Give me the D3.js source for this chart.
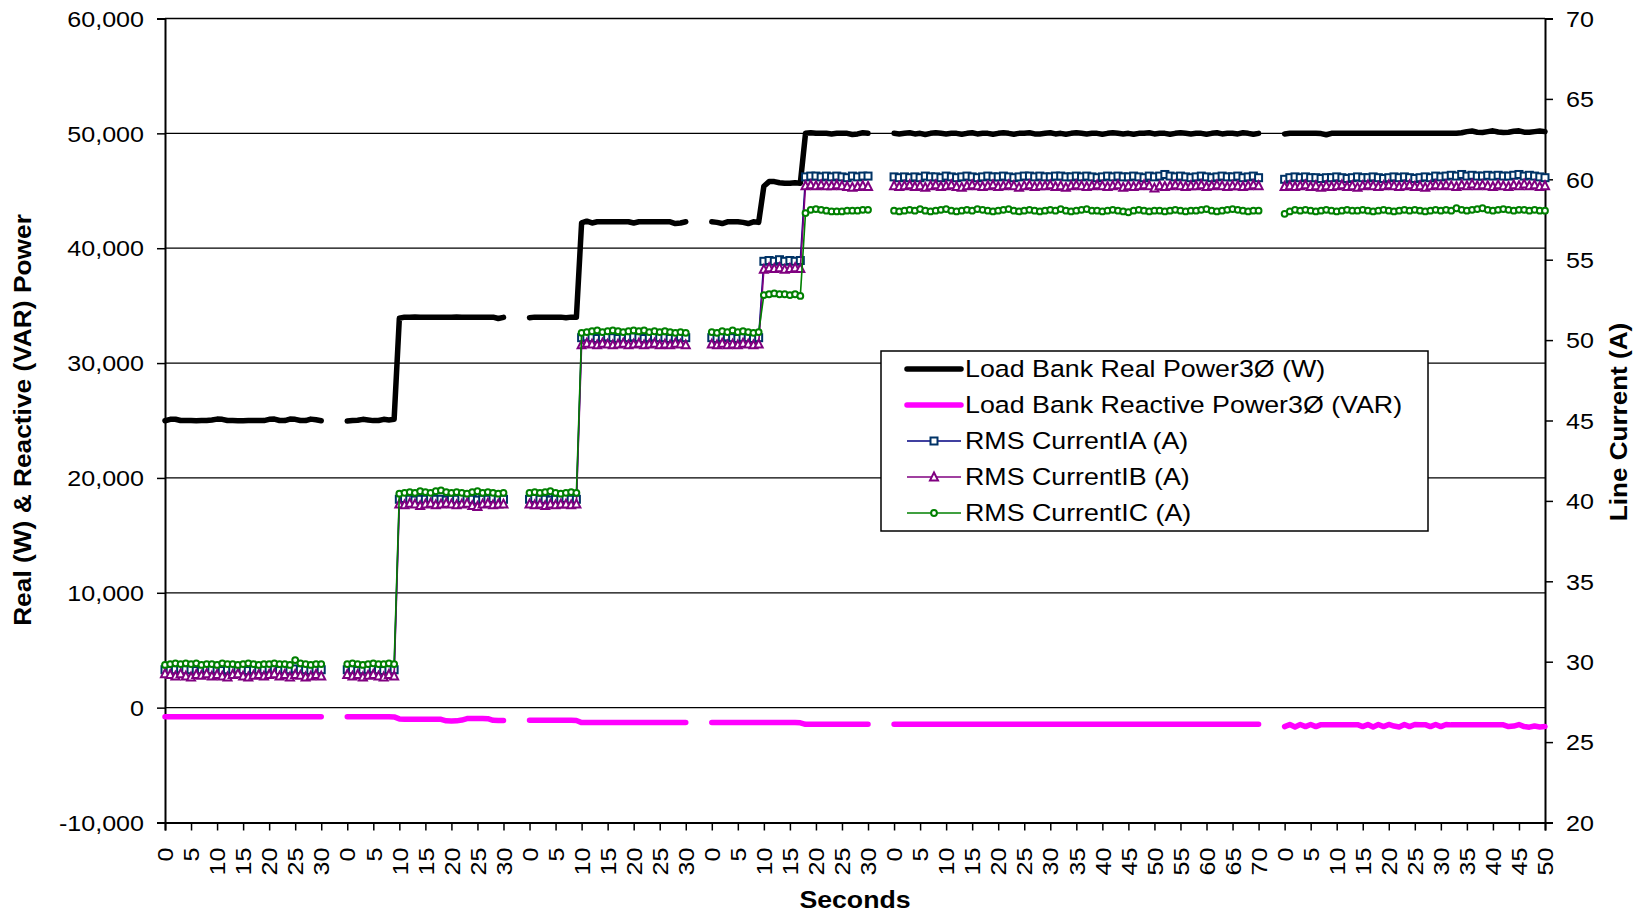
<!DOCTYPE html>
<html><head><meta charset="utf-8">
<script src="https://cdn.jsdelivr.net/npm/d3@7"></script>
<style>body{margin:0;background:#fff}svg{display:block}</style>
</head><body>
<svg id="chart" width="1644" height="915"></svg>
<script>
// ---- DATA ----
const segmentSeconds = [30, 30, 30, 30, 70, 50];   // each run: seconds 0..N
const gapRows = 4;                                 // blank rows between runs
const leftTicks = [-10000, 0, 10000, 20000, 30000, 40000, 50000, 60000];
const rightTicks = [20, 25, 30, 35, 40, 45, 50, 55, 60, 65, 70];
const seriesNames = ["Load Bank Real Power3Ø (W)", "Load Bank Reactive Power3Ø (VAR)",
  "RMS CurrentIA (A)", "RMS CurrentIB (A)", "RMS CurrentIC (A)"];

const realPower = [
  [24980,25100,25110,25000,25000,24990,24980,25000,25000,25050,25120,25100,25000,24990,24980,24980,24990,25000,25000,24990,25100,25120,25000,24990,25120,25100,25000,24990,25120,25060,24980],
  [24950,25000,25020,25100,25050,24990,25000,25100,25050,25100,33900,34000,34000,34020,34000,33980,34000,34000,33980,34000,34000,34020,34000,34000,34000,33980,34000,34000,34000,33880,33980],
  [33950,34000,34000,33980,34000,34000,34000,33950,34000,34000,42200,42350,42200,42300,42300,42300,42300,42300,42300,42300,42200,42300,42300,42300,42300,42300,42300,42300,42150,42200,42300],
  [42300,42250,42150,42300,42300,42300,42250,42150,42300,42250,45400,45800,45800,45700,45650,45650,45700,45650,50000,50050,50000,50000,50000,49950,50000,50000,50000,49900,49950,50050,50000],
  [50000,49950,50000,50050,49950,50000,49900,50000,50050,50000,49950,50000,50000,49920,50000,50050,49950,50000,50000,49920,50000,50050,50000,49930,50000,50000,50050,49950,49950,50000,50050,49950,50000,49920,50000,50050,50000,49950,50000,50000,49930,50000,50050,50000,49950,50000,49920,50000,50000,50050,49950,50000,50000,49920,50000,50050,50000,49950,50000,50000,49930,50000,50050,49950,50000,50000,49950,50050,50000,49920,50000],
  [49950,50000,50000,50000,50000,50000,50000,49980,49880,50000,50000,50000,50000,50000,50000,50000,50000,50000,50000,50000,50000,50000,50000,50000,50000,50000,50000,50000,50000,50000,50000,50000,50000,50000,50050,50150,50200,50100,50080,50150,50220,50120,50080,50100,50180,50220,50100,50100,50150,50200,50150]
];
const reactivePower = [
  [-790,-800,-800,-800,-800,-800,-800,-800,-800,-800,-800,-800,-800,-800,-800,-800,-800,-800,-800,-800,-800,-800,-800,-800,-800,-800,-800,-800,-800,-800,-800],
  [-800,-800,-800,-800,-800,-800,-800,-800,-800,-810,-980,-1000,-1000,-1000,-1000,-1000,-1000,-1000,-1020,-1150,-1160,-1150,-1080,-950,-940,-950,-950,-960,-1100,-1120,-1120],
  [-1100,-1100,-1100,-1100,-1100,-1100,-1100,-1100,-1100,-1120,-1300,-1300,-1300,-1300,-1300,-1300,-1300,-1300,-1300,-1300,-1300,-1300,-1300,-1300,-1300,-1300,-1300,-1300,-1300,-1300,-1300],
  [-1300,-1300,-1300,-1300,-1300,-1300,-1300,-1300,-1300,-1300,-1300,-1300,-1300,-1300,-1300,-1300,-1300,-1320,-1450,-1450,-1450,-1450,-1450,-1450,-1450,-1450,-1450,-1450,-1450,-1450,-1450],
  [-1450,-1450,-1450,-1450,-1450,-1450,-1450,-1450,-1450,-1450,-1450,-1450,-1450,-1450,-1450,-1450,-1450,-1450,-1450,-1450,-1450,-1450,-1450,-1450,-1450,-1450,-1450,-1450,-1450,-1450,-1450,-1450,-1450,-1450,-1450,-1450,-1450,-1450,-1450,-1450,-1450,-1450,-1450,-1450,-1450,-1450,-1450,-1450,-1450,-1450,-1450,-1450,-1450,-1450,-1450,-1450,-1450,-1450,-1450,-1450,-1450,-1450,-1450,-1450,-1450,-1450,-1450,-1450,-1450,-1450,-1450],
  [-1650,-1460,-1680,-1470,-1650,-1460,-1650,-1480,-1500,-1480,-1480,-1480,-1480,-1480,-1480,-1650,-1460,-1680,-1470,-1650,-1460,-1600,-1680,-1460,-1650,-1470,-1480,-1480,-1650,-1460,-1650,-1470,-1500,-1480,-1480,-1480,-1480,-1480,-1480,-1480,-1480,-1480,-1500,-1650,-1600,-1470,-1650,-1700,-1600,-1680,-1650]
];
const currentIA = [
  [29.5,29.45,29.5,29.55,29.5,29.5,29.45,29.5,29.55,29.5,29.5,29.45,29.5,29.5,29.55,29.5,29.45,29.5,29.5,29.5,29.55,29.5,29.45,29.5,29.5,29.55,29.5,29.5,29.45,29.5,29.5],
  [29.5,29.5,29.45,29.5,29.5,29.55,29.5,29.45,29.5,29.5,40.1,40.15,40.1,40.05,40.1,40.1,40.15,40.1,40.1,40.05,40.1,40.1,40.15,40.1,40.1,40.05,40.1,40.1,40.15,40.1,40.1],
  [40.1,40.15,40.1,40.1,40.05,40.1,40.1,40.15,40.1,40.1,50.15,50.2,50.15,50.1,50.15,50.2,50.15,50.1,50.15,50.15,50.2,50.15,50.1,50.15,50.2,50.15,50.15,50.1,50.15,50.2,50.15],
  [50.15,50.1,50.15,50.2,50.15,50.1,50.15,50.15,50.1,50.15,54.9,54.95,54.9,55.0,54.9,54.95,54.9,54.95,60.15,60.2,60.2,60.15,60.2,60.15,60.2,60.15,60.1,60.2,60.15,60.2,60.2],
  [60.15,60.1,60.15,60.1,60.15,60.1,60.2,60.15,60.15,60.1,60.2,60.15,60.1,60.15,60.2,60.15,60.1,60.15,60.2,60.15,60.15,60.2,60.15,60.1,60.15,60.2,60.2,60.15,60.2,60.15,60.15,60.2,60.2,60.15,60.15,60.2,60.15,60.2,60.15,60.1,60.15,60.2,60.15,60.2,60.15,60.15,60.2,60.15,60.1,60.2,60.15,60.2,60.3,60.2,60.15,60.2,60.15,60.1,60.15,60.2,60.15,60.1,60.15,60.2,60.15,60.15,60.2,60.1,60.15,60.2,60.1],
  [60.0,60.1,60.15,60.1,60.15,60.1,60.1,60.05,60.1,60.1,60.15,60.1,60.05,60.1,60.15,60.1,60.1,60.15,60.1,60.05,60.1,60.15,60.1,60.15,60.1,60.05,60.1,60.15,60.1,60.2,60.15,60.2,60.25,60.2,60.3,60.2,60.25,60.2,60.2,60.25,60.2,60.25,60.2,60.2,60.25,60.3,60.2,60.25,60.2,60.15,60.1]
];
const currentIB = [
  [29.25,29.2,29.1,29.25,29.1,29.05,29.2,29.15,29.25,29.1,29.2,29.1,29.05,29.2,29.25,29.1,29.05,29.15,29.2,29.1,29.2,29.25,29.1,29.2,29.05,29.2,29.15,29.05,29.1,29.2,29.1],
  [29.2,29.1,29.2,29.05,29.15,29.2,29.1,29.05,29.2,29.1,39.8,39.75,39.85,39.8,39.7,39.8,39.85,39.75,39.8,39.85,39.8,39.75,39.8,39.85,39.7,39.65,39.8,39.85,39.75,39.8,39.8],
  [39.8,39.75,39.8,39.7,39.8,39.75,39.8,39.8,39.75,39.8,49.7,49.8,49.75,49.7,49.8,49.75,49.7,49.75,49.8,49.7,49.75,49.8,49.7,49.75,49.8,49.7,49.75,49.7,49.8,49.75,49.7],
  [49.75,49.7,49.8,49.7,49.75,49.7,49.8,49.75,49.7,49.75,54.4,54.5,54.45,54.5,54.4,54.45,54.5,54.45,59.6,59.65,59.6,59.65,59.6,59.6,59.65,59.6,59.55,59.5,59.55,59.6,59.55],
  [59.6,59.55,59.6,59.65,59.55,59.6,59.5,59.6,59.65,59.55,59.6,59.65,59.55,59.5,59.6,59.65,59.6,59.55,59.6,59.65,59.55,59.6,59.65,59.6,59.5,59.6,59.65,59.55,59.6,59.6,59.65,59.55,59.6,59.5,59.6,59.65,59.6,59.55,59.6,59.65,59.6,59.55,59.6,59.65,59.5,59.6,59.55,59.6,59.65,59.6,59.45,59.6,59.55,59.6,59.65,59.6,59.55,59.6,59.6,59.65,59.55,59.6,59.65,59.6,59.55,59.6,59.6,59.55,59.6,59.65,59.6],
  [59.55,59.6,59.55,59.6,59.65,59.55,59.6,59.5,59.6,59.55,59.6,59.65,59.55,59.6,59.5,59.6,59.65,59.6,59.55,59.6,59.65,59.6,59.55,59.6,59.65,59.55,59.6,59.5,59.6,59.65,59.6,59.65,59.6,59.55,59.65,59.6,59.7,59.6,59.65,59.6,59.55,59.65,59.6,59.55,59.65,59.6,59.7,59.6,59.65,59.55,59.6]
];
const currentIC = [
  [29.8,29.85,29.9,29.85,29.9,29.85,29.9,29.8,29.85,29.85,29.8,29.9,29.85,29.85,29.8,29.85,29.9,29.85,29.8,29.85,29.85,29.9,29.85,29.85,29.8,30.1,29.9,29.85,29.8,29.85,29.85],
  [29.85,29.9,29.85,29.8,29.85,29.9,29.85,29.85,29.9,29.85,40.45,40.5,40.55,40.5,40.6,40.55,40.5,40.6,40.65,40.55,40.5,40.55,40.5,40.45,40.55,40.6,40.5,40.55,40.5,40.45,40.5],
  [40.5,40.55,40.5,40.55,40.6,40.5,40.45,40.5,40.55,40.5,50.45,50.5,50.55,50.6,50.5,50.55,50.6,50.55,50.5,50.55,50.6,50.55,50.6,50.5,50.55,50.5,50.55,50.5,50.45,50.5,50.45],
  [50.5,50.45,50.55,50.5,50.6,50.5,50.55,50.5,50.45,50.5,52.8,52.85,52.9,52.85,52.85,52.8,52.85,52.75,57.9,58.1,58.15,58.1,58.05,58.0,58.0,58.0,58.05,58.05,58.05,58.1,58.1],
  [58.05,58.0,58.05,58.1,58.05,58.15,58.05,58.0,58.05,58.1,58.15,58.05,58.0,58.05,58.1,58.05,58.15,58.1,58.05,58.0,58.05,58.1,58.15,58.05,58.0,58.05,58.1,58.05,58.0,58.05,58.1,58.05,58.15,58.05,58.0,58.05,58.1,58.15,58.05,58.05,58.0,58.05,58.1,58.05,58.0,57.95,58.05,58.1,58.05,58.0,58.05,58.05,58.0,58.05,58.1,58.05,58.0,58.05,58.05,58.1,58.15,58.05,58.0,58.05,58.1,58.15,58.1,58.05,58.0,58.05,58.05],
  [57.85,58.0,58.1,58.05,58.1,58.05,58.0,58.05,58.1,58.05,58.0,58.05,58.1,58.05,58.05,58.1,58.05,58.0,58.05,58.1,58.05,58.0,58.05,58.1,58.05,58.1,58.05,58.0,58.05,58.1,58.05,58.1,58.05,58.2,58.1,58.05,58.1,58.15,58.2,58.1,58.05,58.1,58.15,58.1,58.05,58.1,58.1,58.05,58.1,58.05,58.05]
];

// ---- BUILD CATEGORY AXIS ----
const categories = [];
segmentSeconds.forEach((dur, s) => {
  for (let t = 0; t <= dur; t++) categories.push(t);
  if (s < segmentSeconds.length - 1) for (let g = 0; g < gapRows; g++) categories.push(null);
});
function flatten(segs) {
  const out = [];
  segs.forEach((a, s) => {
    out.push(...a);
    if (s < segs.length - 1) for (let g = 0; g < gapRows; g++) out.push(null);
  });
  return out;
}
const n = categories.length;
const P = {left: 165, right: 1545, top: 18.5, bottom: 822.5};
const FONT = "'Liberation Sans', Arial, Helvetica, sans-serif";
const SX = 1.14;

const svg = d3.select("#chart");
const x = d3.scaleLinear().domain([0, n - 1]).range([P.left, P.right]);
const yL = d3.scaleLinear().domain([-10000, 60000]).range([P.bottom, P.top]);
const yR = d3.scaleLinear().domain([20, 70]).range([P.bottom, P.top]);

// gridlines
svg.append("g").selectAll("line").data(leftTicks.filter(v => v > -10000)).join("line")
  .attr("x1", P.left).attr("x2", P.right)
  .attr("y1", d => yL(d)).attr("y2", d => yL(d))
  .attr("stroke", "#000").attr("stroke-width", 1.3);

// axes
const fmt = d => d3.format(",")(d).replace("\u2212", "-");
const gL = svg.append("g").attr("transform", `translate(${P.left},0)`)
  .call(d3.axisLeft(yL).tickValues(leftTicks).tickSize(8).tickFormat(fmt));
gL.selectAll("text").attr("x", 0).attr("dy", "0.35em")
  .attr("transform", `translate(-21,0) scale(${SX},1)`);

const gR = svg.append("g").attr("transform", `translate(${P.right},0)`)
  .call(d3.axisRight(yR).tickValues(rightTicks).tickSize(8));
gR.selectAll("text").attr("x", 0).attr("dy", "0.35em")
  .attr("transform", `translate(21,0) scale(${SX},1)`);

const tickIdx = d3.range(n).filter(i => categories[i] !== null && categories[i] % 5 === 0);
const gB = svg.append("g").attr("transform", `translate(0,${P.bottom})`)
  .call(d3.axisBottom(x).tickValues(tickIdx).tickSize(8).tickFormat(i => categories[i]));
gB.selectAll("text").attr("x", 0).attr("y", 0).attr("dy", "0.35em")
  .attr("text-anchor", "end")
  .attr("transform", `translate(0,25) rotate(-90) scale(${SX},1)`);

[gL, gR, gB].forEach(g => {
  g.attr("font-family", FONT).attr("font-size", 22);
  g.selectAll("text").attr("fill", "#000");
  g.select(".domain").attr("stroke", "#000").attr("stroke-width", 2);
  g.selectAll(".tick line").attr("stroke", "#000").attr("stroke-width", 1.5);
});

// axis titles
svg.append("text").text("Seconds")
  .attr("transform", `translate(855,908) scale(1.09,1)`)
  .attr("text-anchor", "middle").attr("font-family", FONT).attr("font-weight", "bold").attr("font-size", 24.5);
svg.append("text").text("Real (W) & Reactive (VAR) Power")
  .attr("transform", `translate(31,420) rotate(-90) scale(1.12,1)`)
  .attr("text-anchor", "middle").attr("font-family", FONT).attr("font-weight", "bold").attr("font-size", 23.5);
svg.append("text").text("Line Current (A)")
  .attr("transform", `translate(1627,422) rotate(-90) scale(1.11,1)`)
  .attr("text-anchor", "middle").attr("font-family", FONT).attr("font-weight", "bold").attr("font-size", 23.5);

// series
const rp = flatten(realPower), rq = flatten(reactivePower);
const ia = flatten(currentIA), ib = flatten(currentIB), ic = flatten(currentIC);
const lineL = d3.line().defined(d => d !== null).x((d, i) => x(i)).y(d => yL(d));
const lineR = d3.line().defined(d => d !== null).x((d, i) => x(i)).y(d => yR(d));

const styles = [
  {stroke: "#000000", width: 5.5},
  {stroke: "#FF00FF", width: 5.5},
  {stroke: "#000080", mk: "#003366", width: 1.6, marker: "square"},
  {stroke: "#800080", mk: "#800080", width: 1.6, marker: "triangle"},
  {stroke: "#008000", mk: "#008000", width: 1.6, marker: "circle"}
];

svg.append("path").datum(rp).attr("d", lineL).attr("fill", "none")
  .attr("stroke", styles[0].stroke).attr("stroke-width", styles[0].width)
  .attr("stroke-linejoin", "round").attr("stroke-linecap", "round");
svg.append("path").datum(rq).attr("d", lineL).attr("fill", "none")
  .attr("stroke", styles[1].stroke).attr("stroke-width", styles[1].width)
  .attr("stroke-linejoin", "round").attr("stroke-linecap", "round");

function drawMarker(g, type, color) {
  if (type === "square") {
    g.append("rect").attr("x", -3.5).attr("y", -3.5).attr("width", 7).attr("height", 7)
      .attr("fill", "#fff").attr("stroke", color).attr("stroke-width", 2);
  } else if (type === "triangle") {
    g.append("path").attr("d", "M0,-4.5L4,3.4L-4,3.4Z")
      .attr("fill", "#fff").attr("stroke", color).attr("stroke-width", 2);
  } else {
    g.append("circle").attr("r", 2.9).attr("fill", "#fff").attr("stroke", color).attr("stroke-width", 2);
  }
}

[[ia, styles[2]], [ib, styles[3]], [ic, styles[4]]].forEach(([data, st]) => {
  const g = svg.append("g");
  g.append("path").datum(data).attr("d", lineR).attr("fill", "none")
    .attr("stroke", st.stroke).attr("stroke-width", st.width);
  const pts = data.map((v, i) => ({v, i})).filter(d => d.v !== null);
  pts.forEach(d => {
    const mg = g.append("g").attr("transform", `translate(${x(d.i)},${yR(d.v)})`);
    drawMarker(mg, st.marker, st.mk);
  });
});

// legend
const lg = svg.append("g");
lg.append("rect").attr("x", 881).attr("y", 351).attr("width", 547).attr("height", 180)
  .attr("fill", "#fff").attr("stroke", "#000").attr("stroke-width", 1.5);
seriesNames.forEach((name, k) => {
  const yy = 369 + 36 * k;
  const st = styles[k];
  lg.append("line").attr("x1", 907).attr("x2", 961).attr("y1", yy).attr("y2", yy)
    .attr("stroke", st.stroke).attr("stroke-width", st.width)
    .attr("stroke-linecap", k < 2 ? "round" : "butt");
  if (st.marker) drawMarker(lg.append("g").attr("transform", `translate(934,${yy})`), st.marker, st.mk);
  lg.append("text").text(name)
    .attr("transform", `translate(965,${yy}) scale(1.15,1)`)
    .attr("dy", "0.35em").attr("font-family", FONT).attr("font-size", 23.3).attr("fill", "#000");
});
</script>
</body></html>
